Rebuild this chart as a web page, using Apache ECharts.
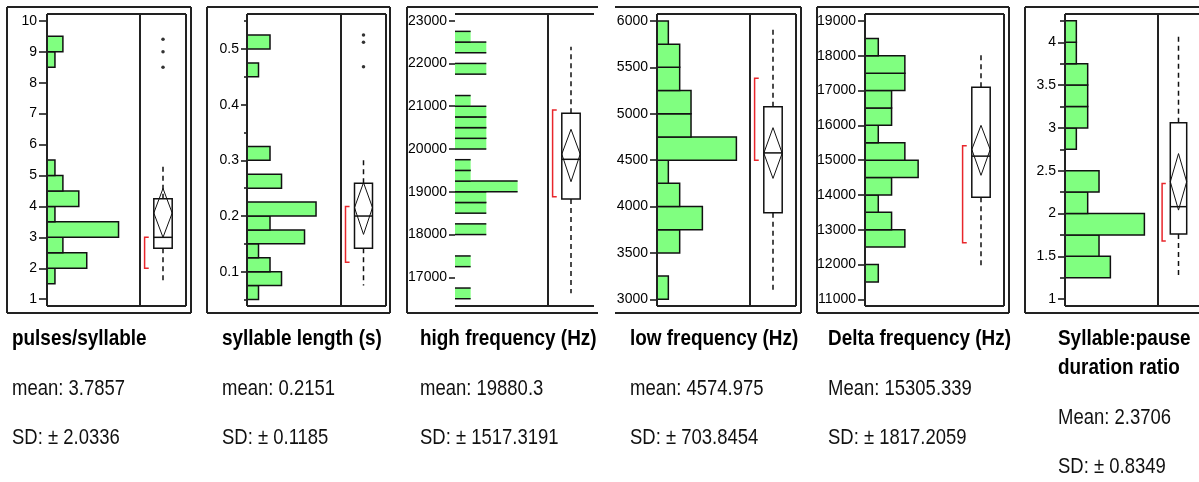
<!DOCTYPE html>
<html>
<head>
<meta charset="utf-8">
<script src="https://cdn.jsdelivr.net/npm/echarts@6/dist/echarts.min.js"></script>
<style>
  html, body { margin: 0; padding: 0; background: #fff; }
  #chart { width: 1199px; height: 482px; }
</style>
</head>
<body>
<div id="chart"></div>
<script>
// ---- Variable names and summary statistics ----
const titles = ['pulses/syllable', 'syllable length (s)', 'high frequency (Hz)',
                'low frequency (Hz)', 'Delta frequency (Hz)', 'Syllable:pause\nduration ratio'];
const meanWord = ['mean', 'mean', 'mean', 'mean', 'Mean', 'Mean'];
const means = [3.7857, 0.2151, 19880.3, 4574.975, 15305.339, 2.3706];
const sds = [2.0336, 0.1185, 1517.3191, 703.8454, 1817.2059, 0.8349];

// ---- Histogram bins (lower edge) and counts ----
const binWidth = [0.5, 0.025, 250, 250, 500, 0.25];
const pulsesBinLo = [1.5, 2, 2.5, 3, 3.5, 4, 4.5, 5, 8.5, 9];
const pulsesCount = [1, 5, 2, 9, 1, 4, 2, 1, 1, 2];
const lengthBinLo = [0.05, 0.075, 0.1, 0.125, 0.15, 0.175, 0.2, 0.25, 0.3, 0.45, 0.5];
const lengthCount = [1, 3, 2, 1, 5, 2, 6, 3, 2, 1, 2];
const highBinLo = [16500, 17250, 18000, 18500, 18750, 19000, 19250, 19500, 20000, 20250, 20500, 20750, 21000, 21750, 22250, 22500];
const highCount = [1, 1, 2, 2, 2, 4, 1, 1, 2, 2, 2, 2, 1, 2, 2, 1];
const lowBinLo = [3000, 3500, 3750, 4000, 4250, 4500, 4750, 5000, 5250, 5500, 5750];
const lowCount = [1, 2, 4, 2, 1, 7, 3, 3, 2, 2, 1];
const deltaBinLo = [11500, 12500, 13000, 13500, 14000, 14500, 15000, 15500, 16000, 16500, 17000, 17500, 18000];
const deltaCount = [1, 3, 2, 1, 2, 4, 3, 1, 2, 2, 3, 3, 1];
const ratioBinLo = [1.25, 1.5, 1.75, 2, 2.25, 2.75, 3, 3.25, 3.5, 3.75, 4];
const ratioCount = [4, 3, 7, 2, 3, 1, 2, 2, 2, 1, 1];
const binLo = [pulsesBinLo, lengthBinLo, highBinLo, lowBinLo, deltaBinLo, ratioBinLo];
const binCount = [pulsesCount, lengthCount, highCount, lowCount, deltaCount, ratioCount];
const countMax = [11.7, 8.17, 5.94, 8.2, 7.0, 8.2];

// ---- Quantile box, means diamond, shortest half, outliers ----
const q1 = [2.65, 0.142, 18832, 3932, 13935, 1.76];
const median = [3.0, 0.2, 19759, 4578, 15115, 2.08];
const q3 = [4.25, 0.259, 20835, 5075, 17097, 3.06];
const whiskerLo = [1.6, 0.075, 16626, 3100, 11890, 1.25];
const whiskerHi = [5.35, 0.302, 22392, 5904, 18115, 4.08];
const ciLo = [3.0, 0.167, 19236, 4303, 14563, 2.04];
const ciHi = [4.58, 0.26, 20461, 4850, 16000, 2.70];
const shortestLo = [2.0, 0.117, 18885, 4500, 12628, 1.68];
const shortestHi = [3.0, 0.217, 20912, 5382, 15416, 2.35];
const outliers = [[8.5, 9.0, 9.4], [0.468, 0.512, 0.525], [], [], [], []];

// ---- Value axes ----
const axisMin = [0.78, 0.0384, 16330, 2928, 10807, 0.92];
const axisMax = [10.22, 0.5629, 23156, 6075, 19201, 4.33];
const majorTicks = [
  [1, 2, 3, 4, 5, 6, 7, 8, 9, 10],
  [0.1, 0.2, 0.3, 0.4, 0.5],
  [17000, 18000, 19000, 20000, 21000, 22000, 23000],
  [3000, 3500, 4000, 4500, 5000, 5500, 6000],
  [11000, 12000, 13000, 14000, 15000, 16000, 17000, 18000, 19000],
  [1, 1.5, 2, 2.5, 3, 3.5, 4]
];
const minorTicks = [
  [],
  [0.05, 0.15, 0.25, 0.35, 0.45, 0.55],
  [], [], [],
  [1.25, 1.75, 2.25, 2.75, 3.25, 3.75, 4.25]
];

// ---- Panel geometry (pixels) ----
const OUT_TOP = 7, OUT_BOT = 313, IN_TOP = 14, IN_BOT = 306;
const frames = [
  { ol: 7,    or: 191,  oL: true,  oR: true,  il: 47,   div: 140,  ir: 186,  iL: true,  iDiv: true,  iR: true,  open: false, textX: 12 },
  { ol: 207,  or: 390,  oL: true,  oR: true,  il: 247,  div: 341,  ir: 386,  iL: true,  iDiv: true,  iR: true,  open: false, textX: 222 },
  { ol: 407,  or: 598,  oL: true,  oR: false, il: 455,  div: 548,  ir: 594,  iL: false, iDiv: true,  iR: false, open: true,  textX: 420 },
  { ol: 615,  or: 801,  oL: false, oR: true,  il: 657,  div: 750,  ir: 796,  iL: true,  iDiv: true,  iR: true,  open: false, textX: 630 },
  { ol: 817,  or: 1009, oL: true,  oR: true,  il: 865,  div: 958,  ir: 1004, iL: true,  iDiv: false, iR: true,  open: false, textX: 828 },
  { ol: 1025, or: 1215, oL: true,  oR: false, il: 1065, div: 1158, ir: 1204, iL: true,  iDiv: true,  iR: false, open: false, textX: 1058 }
];
const tickLen = [8, 6, 6, 7, 7, 7];
const minorLen = [0, 3, 0, 0, 0, 5];

const GREEN = '#80ff80';
const INK = '#111';
const RED = '#e8262b';
const LABEL_FONT = '"Liberation Sans Narrow", "Arial Narrow", "Liberation Sans", Arial, sans-serif';

const grids = [], xAxes = [], yAxes = [], series = [], graphics = [];

function histRenderer(open) {
  return function (params, api) {
    const lo = api.value(0), hi = api.value(1), c = api.value(2);
    const a = api.coord([0, hi]);
    const b = api.coord([c, lo]);
    const shape = { x: a[0], y: a[1], width: b[0] - a[0], height: b[1] - a[1] };
    if (!open) {
      return { type: 'rect', shape, style: { fill: GREEN, stroke: INK, lineWidth: 1.5 } };
    }
    return {
      type: 'group',
      children: [
        { type: 'rect', shape, style: { fill: GREEN } },
        { type: 'line', shape: { x1: a[0], y1: a[1], x2: b[0], y2: a[1] }, style: { stroke: INK, lineWidth: 1.5 } },
        { type: 'line', shape: { x1: a[0], y1: b[1], x2: b[0], y2: b[1] }, style: { stroke: INK, lineWidth: 1.5 } }
      ]
    };
  };
}

function boxRenderer(params, api) {
  const v = [];
  for (let k = 0; k < 10; k++) v.push(api.value(k));
  const [lq, md, uq, wl, wh, mn, cl, ch, sl, sh] = v;
  const P = (x, y) => api.coord([x, y]);
  const xl = 0.3, xr = 0.7, xc = 0.5, bx = 0.1, bt = 0.19;
  const tl = P(xl, uq), br = P(xr, lq);
  const line = (p, q, extra) => ({
    type: 'line', shape: { x1: p[0], y1: p[1], x2: q[0], y2: q[1] },
    style: Object.assign({ stroke: INK, lineWidth: 1.5 }, extra || {})
  });
  return {
    type: 'group',
    children: [
      line(P(xc, uq), P(xc, wh), { lineDash: [5, 4] }),
      line(P(xc, lq), P(xc, wl), { lineDash: [5, 4] }),
      { type: 'rect', shape: { x: tl[0], y: tl[1], width: br[0] - tl[0], height: br[1] - tl[1] },
        style: { fill: 'rgba(0,0,0,0)', stroke: INK, lineWidth: 1.5 } },
      line(P(xl, md), P(xr, md)),
      { type: 'polygon', shape: { points: [P(xl, mn), P(xc, ch), P(xr, mn), P(xc, cl)] },
        style: { fill: 'rgba(0,0,0,0)', stroke: INK, lineWidth: 1 } },
      { type: 'polyline', shape: { points: [P(bt, sh), P(bx, sh), P(bx, sl), P(bt, sl)] },
        style: { fill: null, stroke: RED, lineWidth: 1.5 } }
    ]
  };
}

frames.forEach((f, i) => {
  const hg = grids.length;
  grids.push({ left: f.il, top: IN_TOP, width: f.div - f.il, height: IN_BOT - IN_TOP });
  grids.push({ left: f.div, top: IN_TOP, width: f.ir - f.div, height: IN_BOT - IN_TOP });

  xAxes.push({ gridIndex: hg, type: 'value', min: 0, max: countMax[i], show: false });
  xAxes.push({ gridIndex: hg + 1, type: 'value', min: 0, max: 1, show: false });

  const hy = yAxes.length;
  yAxes.push({
    gridIndex: hg, type: 'value', position: 'left', min: axisMin[i], max: axisMax[i],
    axisLine: { show: false }, splitLine: { show: false },
    axisTick: { show: true, length: tickLen[i], customValues: majorTicks[i], lineStyle: { color: INK, width: 1.5 } },
    axisLabel: { show: true, customValues: majorTicks[i], margin: tickLen[i] + 2, fontSize: 14,
                 fontFamily: LABEL_FONT, color: '#000', formatter: (val) => String(val) }
  });
  if (minorTicks[i].length) {
    yAxes.push({
      gridIndex: hg, type: 'value', position: 'left', offset: 0, min: axisMin[i], max: axisMax[i],
      axisLine: { show: false }, splitLine: { show: false }, axisLabel: { show: false },
      axisTick: { show: true, length: minorLen[i], customValues: minorTicks[i], lineStyle: { color: INK, width: 1.5 } }
    });
  }
  const by = yAxes.length;
  yAxes.push({ gridIndex: hg + 1, type: 'value', min: axisMin[i], max: axisMax[i], show: false });

  series.push({
    type: 'custom', xAxisIndex: hg, yAxisIndex: hy, renderItem: histRenderer(f.open), silent: true,
    data: binLo[i].map((lo, k) => [lo, lo + binWidth[i], binCount[i][k]])
  });
  series.push({
    type: 'custom', xAxisIndex: hg + 1, yAxisIndex: by, renderItem: boxRenderer, silent: true,
    data: [[q1[i], median[i], q3[i], whiskerLo[i], whiskerHi[i], means[i], ciLo[i], ciHi[i], shortestLo[i], shortestHi[i]]]
  });
  if (outliers[i].length) {
    series.push({
      type: 'scatter', xAxisIndex: hg + 1, yAxisIndex: by, symbol: 'circle', symbolSize: 3.5,
      itemStyle: { color: '#000' }, silent: true,
      data: outliers[i].map(o => [0.5, o])
    });
  }

  // panel frames
  const seg = (x1, y1, x2, y2) => graphics.push({
    type: 'line', z: 100, silent: true, shape: { x1, y1, x2, y2 },
    style: { stroke: '#222', lineWidth: 2 }
  });
  seg(f.ol, OUT_TOP, f.or, OUT_TOP);
  seg(f.ol, OUT_BOT, f.or, OUT_BOT);
  if (f.oL) seg(f.ol, OUT_TOP, f.ol, OUT_BOT);
  if (f.oR) seg(f.or, OUT_TOP, f.or, OUT_BOT);
  seg(f.il, IN_TOP, f.ir, IN_TOP);
  seg(f.il, IN_BOT, f.ir, IN_BOT);
  if (f.iL) seg(f.il, IN_TOP, f.il, IN_BOT);
  if (f.iDiv) seg(f.div, IN_TOP, f.div, IN_BOT);
  if (f.iR) seg(f.ir, IN_TOP, f.ir, IN_BOT);

  // variable name and statistics beneath the panel
  const nameLines = titles[i].split('\n');
  let y = 339;
  nameLines.forEach((t, k) => {
    y = 339 + k * 29;
    graphics.push({
      type: 'text', x: f.textX, y, scaleX: 0.86, silent: true,
      style: { text: t, fill: '#000', font: 'bold 22px "Liberation Sans", Arial, sans-serif', verticalAlign: 'middle', align: 'left' }
    });
  });
  const statsFont = '22px "Liberation Sans", Arial, sans-serif';
  graphics.push({
    type: 'text', x: f.textX, y: y + 50, scaleX: 0.84, silent: true,
    style: { text: meanWord[i] + ': ' + means[i], fill: '#111', font: statsFont, verticalAlign: 'middle', align: 'left' }
  });
  graphics.push({
    type: 'text', x: f.textX, y: y + 99, scaleX: 0.84, silent: true,
    style: { text: 'SD: \u00b1 ' + sds[i], fill: '#111', font: statsFont, verticalAlign: 'middle', align: 'left' }
  });
});

const chart = echarts.init(document.getElementById('chart'), null, { renderer: 'canvas' });
chart.setOption({
  backgroundColor: '#ffffff',
  animation: false,
  grid: grids,
  xAxis: xAxes,
  yAxis: yAxes,
  series: series,
  graphic: { elements: graphics }
});
</script>
</body>
</html>
